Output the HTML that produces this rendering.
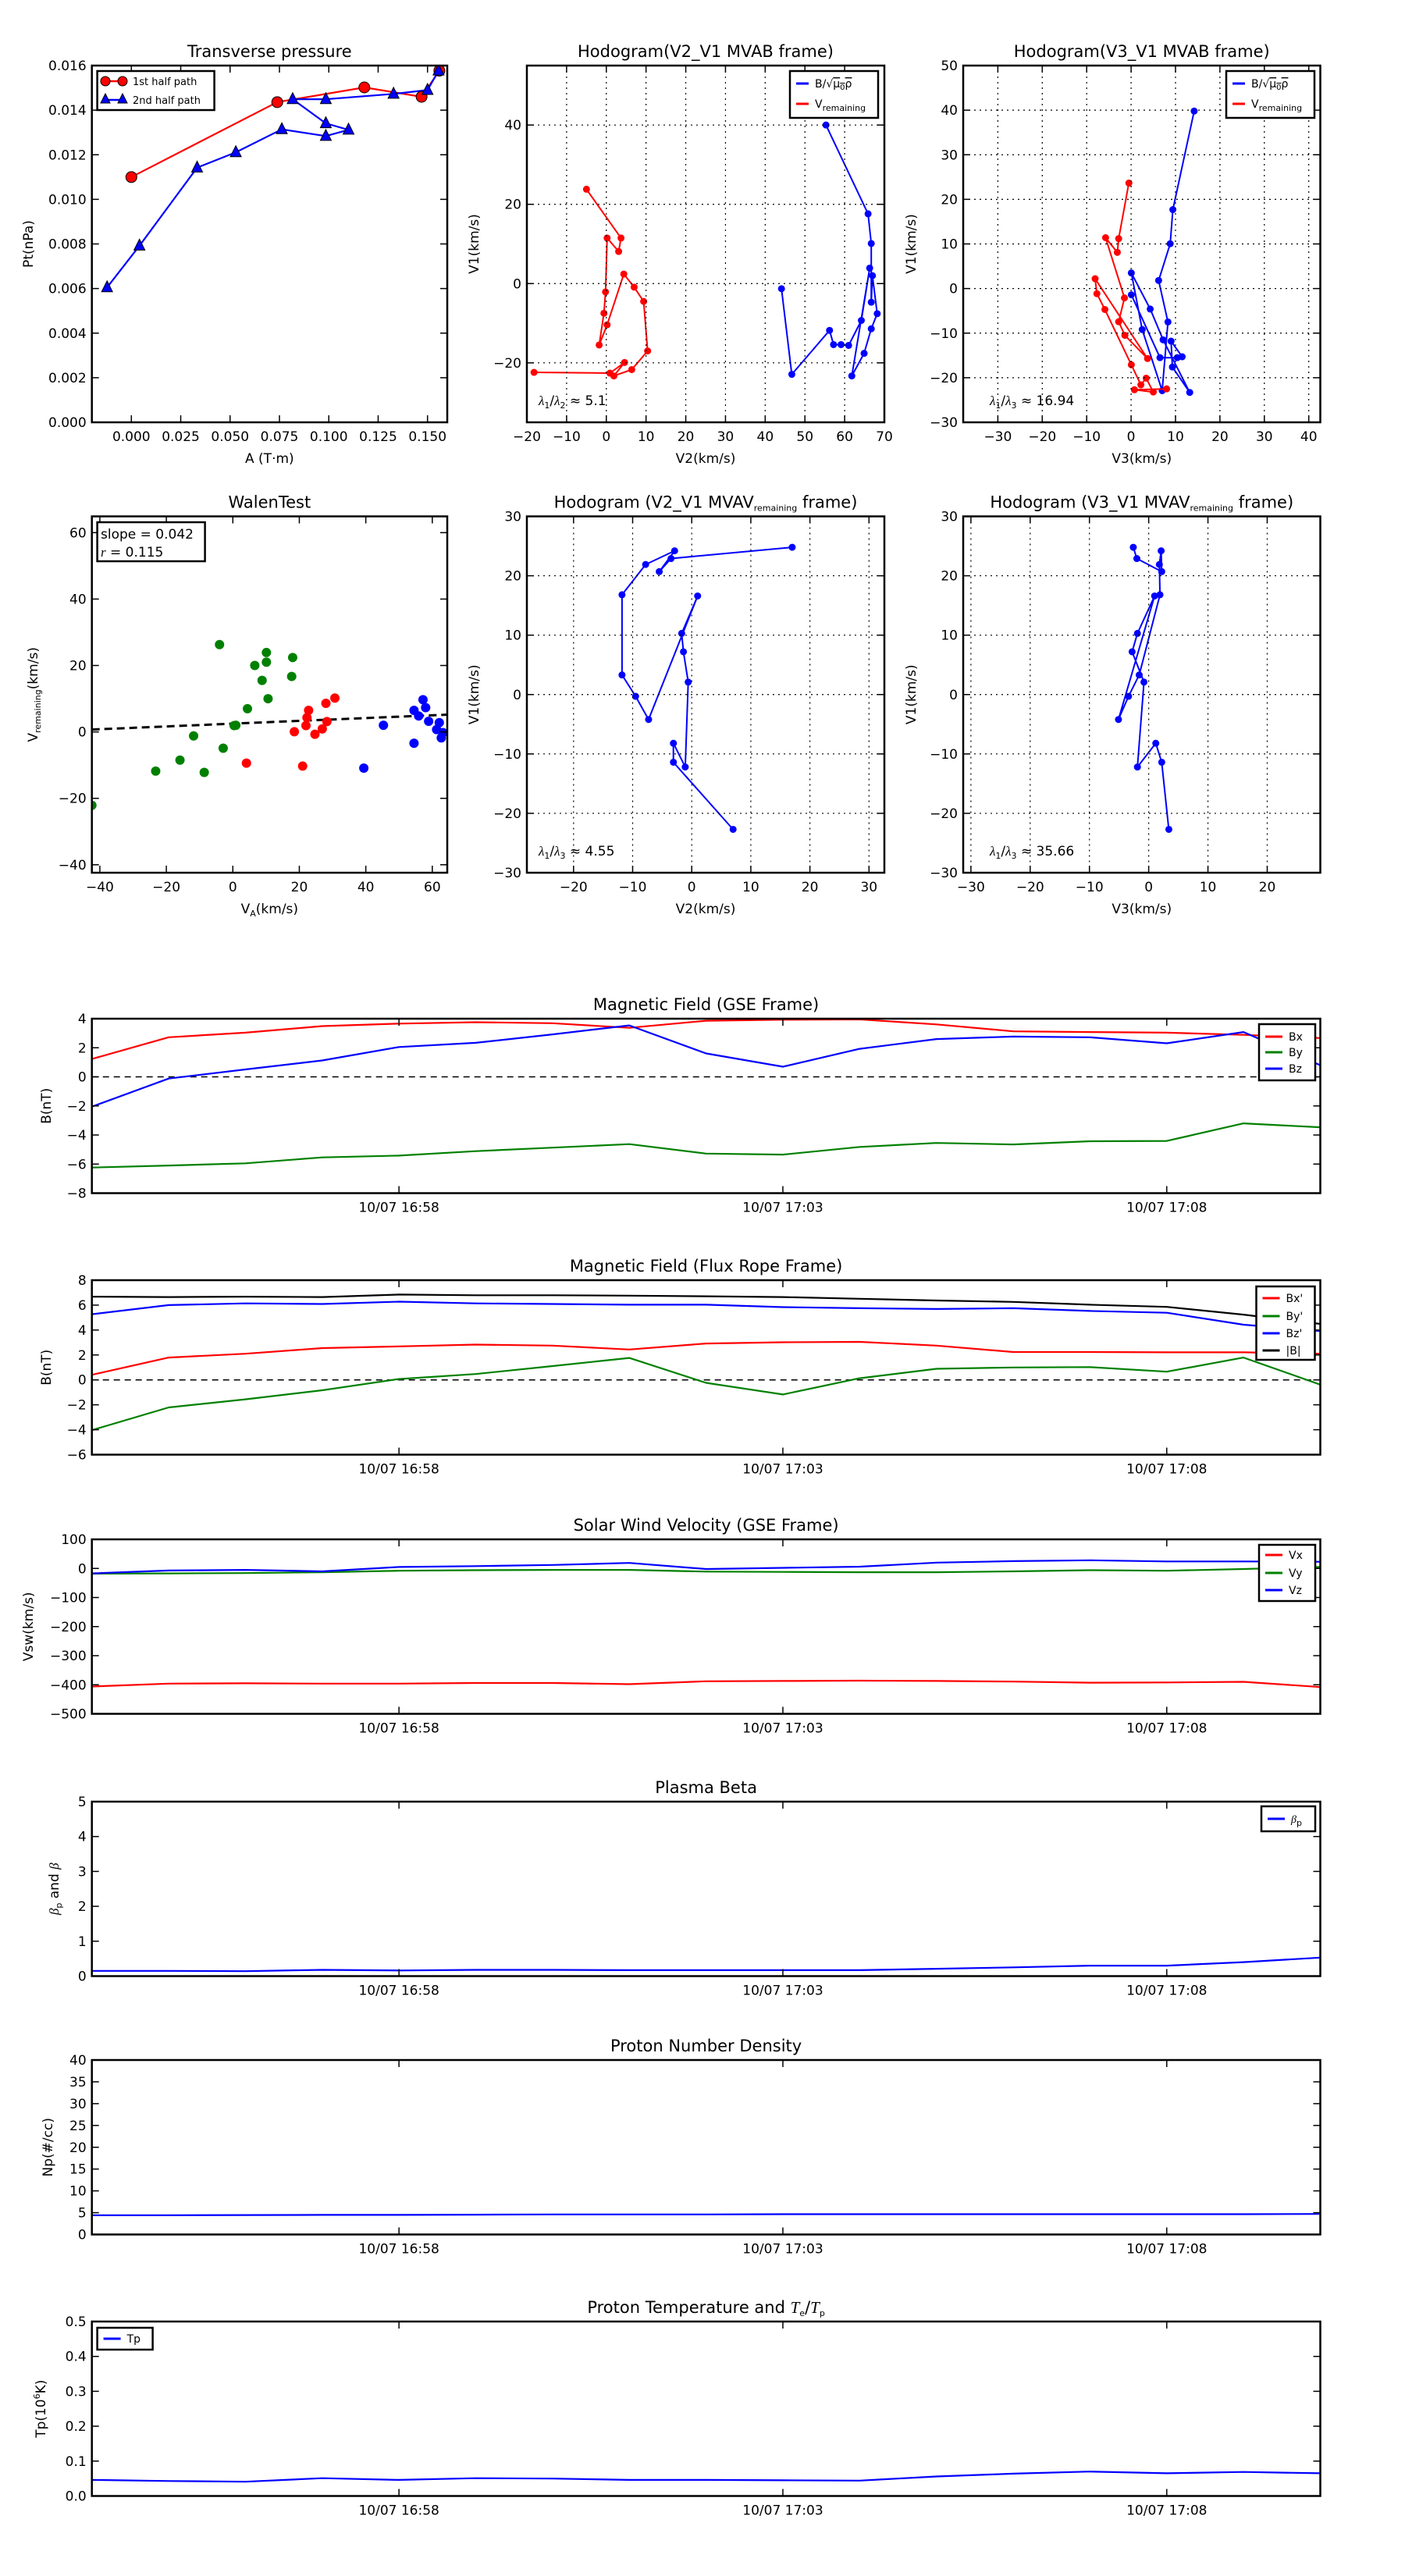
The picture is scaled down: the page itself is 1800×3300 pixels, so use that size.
<!DOCTYPE html>
<html><head><meta charset="utf-8"><style>
html,body{margin:0;padding:0;background:#fff;}
svg{display:block;font-family:"DejaVu Sans","Liberation Sans",sans-serif;}
</style></head><body>
<svg id="fig" width="1800" height="3300" viewBox="0 0 1800 3300" xmlns="http://www.w3.org/2000/svg"></svg>
<script>
// ---------- data ----------
const ptRedA=[0.000,0.0739,0.118,0.147,0.156];
const ptRedP=[0.0110,0.01436,0.01502,0.0146,0.01577];
const ptBlueA=[-0.0123,0.0041,0.0333,0.0529,0.0762,0.0985,0.110,0.0985,0.0817,0.0985,0.1328,0.150,0.1556];
const ptBlueP=[0.00605,0.00792,0.01142,0.01211,0.01314,0.01284,0.01312,0.01341,0.01449,0.01449,0.01473,0.01490,0.01577];
const h1BV2=[44.1,46.7,56.2,57.2,59.1,61.0,64.2,66.3,61.8,64.9,66.7,68.2,67.0,66.7,66.7,65.9,55.3];
const h1BV1=[-1.3,-22.9,-11.8,-15.4,-15.4,-15.6,-9.3,3.9,-23.3,-17.6,-11.4,-7.6,2.0,-4.7,10.1,17.6,40.0];
const h1RV2=[-5.0,3.7,3.1,0.2,-0.2,-0.6,-1.8,0.2,4.4,7.0,9.4,10.4,6.4,1.9,4.6,0.9,-18.2];
const h1RV1=[23.8,11.5,8.1,11.5,-2.1,-7.5,-15.5,-10.4,2.4,-0.9,-4.5,-17.0,-21.7,-23.3,-19.9,-22.6,-22.4];
const h2BV3=[14.2,9.4,8.8,6.2,8.3,7.0,2.5,0.05,4.3,7.2,13.2,9.3,9.0,11.5,10.4,6.5,0.05];
const h2BV1=[39.8,17.7,10.05,1.8,-7.5,-22.9,-9.2,3.5,-4.6,-11.5,-23.3,-17.6,-11.8,-15.3,-15.5,-15.5,-1.4];
const h2RV3=[-0.5,-2.8,-3.1,-5.75,-1.5,-2.8,-1.4,3.7,-8.1,-7.7,-5.9,0.05,2.2,3.4,5.0,0.75,8.0];
const h2RV1=[23.65,11.2,8.1,11.4,-2.1,-7.45,-10.5,-15.7,2.2,-1.15,-4.7,-17.1,-21.6,-20.1,-23.2,-22.7,-22.5];
const walGX=[-4.0,10.1,10.1,6.6,18.0,17.7,8.8,10.6,4.4,0.9,0.4,-11.8,-2.9,-15.9,-23.2,-8.6,-42.4];
const walGY=[26.3,23.9,21.0,20.0,22.4,16.7,15.5,10.0,7.0,2.0,1.9,-1.2,-4.9,-8.5,-11.8,-12.2,-22.1];
const walRX=[30.7,28.0,22.8,22.3,28.3,22.0,18.5,26.9,24.7,4.1,21.0];
const walRY=[10.2,8.6,6.5,4.3,3.1,1.9,0.05,0.9,-0.7,-9.4,-10.3];
const walBX=[57.2,58.0,54.5,55.9,58.9,45.3,62.1,61.3,63.2,62.7,54.5,39.4];
const walBY=[9.7,7.3,6.5,4.8,3.2,2.0,2.8,0.7,-0.2,-1.8,-3.4,-10.9];
const walSlope=0.042, walIntercept=2.48;
const m1V2=[7.0,-3.1,-3.1,-1.1,-0.6,-1.4,-1.7,1.0,-7.3,-9.5,-11.8,-11.8,-7.8,-2.9,-5.5,-3.5,17.0];
const m1V1=[-22.7,-11.4,-8.2,-12.2,2.1,7.2,10.3,16.6,-4.2,-0.3,3.3,16.8,21.9,24.2,20.7,22.9,24.8];
const m2V3=[3.4,2.2,1.2,-1.9,-0.8,-2.8,-1.9,1.0,-5.1,-3.4,-1.6,1.9,1.8,2.1,2.2,-2.0,-2.6];
const timeLabels=["10/07 16:58","10/07 17:03","10/07 17:08"];
const timeTickIdx=[4,9,14];
const gseBx=[1.23,2.72,3.04,3.49,3.66,3.76,3.69,3.37,3.86,3.93,3.95,3.61,3.13,3.08,3.04,2.89,2.67];
const gseBy=[-6.24,-6.10,-5.95,-5.54,-5.42,-5.11,-4.87,-4.63,-5.28,-5.35,-4.82,-4.55,-4.65,-4.43,-4.41,-3.20,-3.47];
const gseBz=[-2.05,-0.12,0.51,1.13,2.05,2.34,2.92,3.54,1.61,0.70,1.93,2.60,2.77,2.72,2.31,3.08,0.80];
const frBx=[0.41,1.79,2.10,2.55,2.69,2.83,2.75,2.44,2.92,3.02,3.05,2.75,2.24,2.24,2.21,2.21,2.10];
const frBy=[-4.03,-2.21,-1.56,-0.83,0.07,0.47,1.11,1.76,-0.24,-1.17,0.13,0.89,1.0,1.03,0.66,1.79,-0.38];
const frBz=[5.27,6.0,6.14,6.09,6.28,6.14,6.09,6.03,6.03,5.84,5.75,5.69,5.75,5.53,5.39,4.43,3.92];
const frBt=[6.68,6.65,6.68,6.65,6.85,6.79,6.79,6.76,6.71,6.65,6.51,6.37,6.26,6.03,5.86,5.24,4.49];
const vx=[-406,-396,-395,-396,-396,-394,-394,-398,-388,-387,-386,-387,-389,-393,-392,-390,-408];
const vy=[-18,-17,-16,-13,-8,-6,-5,-5,-11,-12,-13,-13,-10,-6,-8,-2,5];
const vz=[-17,-7,-5,-10,5,8,12,19,-2,2,6,20,25,28,24,24,23];
const betaP=[0.15,0.15,0.14,0.18,0.16,0.18,0.18,0.17,0.17,0.17,0.17,0.21,0.25,0.30,0.30,0.40,0.53];
const np=[4.4,4.4,4.45,4.5,4.5,4.55,4.6,4.6,4.6,4.65,4.65,4.65,4.65,4.65,4.65,4.65,4.7];
const tp=[0.046,0.043,0.041,0.051,0.046,0.051,0.050,0.046,0.046,0.045,0.044,0.056,0.064,0.070,0.065,0.069,0.065];

// ---------- helpers ----------
const NS="http://www.w3.org/2000/svg";
const fig=document.getElementById('fig');
function mk(tag,attrs,parent,txt){const e=document.createElementNS(NS,tag);for(const k in attrs)e.setAttribute(k,attrs[k]);if(txt!==undefined)e.textContent=txt;(parent||fig).appendChild(e);return e;}
function grp(name){const g=mk('g',{});


return g;}
function fmt(v,d){return v<0?'\u2212'+Math.abs(v).toFixed(d):v.toFixed(d);}

function axes(o){
  const g=grp(o.name);
  const sx=v=>o.x0+(v-o.xmin)/(o.xmax-o.xmin)*(o.x1-o.x0);
  const sy=v=>o.y1-(v-o.ymin)/(o.ymax-o.ymin)*(o.y1-o.y0);
  const clip='c'+o.name;
  const cp=mk('clipPath',{id:clip},g);mk('rect',{x:o.x0,y:o.y0,width:o.x1-o.x0,height:o.y1-o.y0},cp);
  const plot=mk('g',{'clip-path':'url(#'+clip+')'},g);
  
  
  o.xt.forEach(v=>{const x=sx(v);
    if(o.grid){const l=mk('line',{x1:x,x2:x,y1:o.y0,y2:o.y1,stroke:'#000','stroke-width':1.2,'stroke-dasharray':'2,5'},g);
    
    }
    mk('line',{x1:x,x2:x,y1:o.y1,y2:o.y1-9,stroke:'#000','stroke-width':1.5},g);
    mk('line',{x1:x,x2:x,y1:o.y0,y2:o.y0+9,stroke:'#000','stroke-width':1.5},g);
    if(!o.xlab){const t=mk('text',{x:x,y:o.y1+24,'font-size':17,'text-anchor':'middle'},g,fmt(v,o.xd||0));
    
    }
  });
  if(o.xlab)o.xlab.forEach((s,i)=>{const t=mk('text',{x:sx(o.xt[i]),y:o.y1+24,'font-size':17,'text-anchor':'middle'},g,s);
    
    });
  o.yt.forEach(v=>{const y=sy(v);
    if(o.grid){const l=mk('line',{x1:o.x0,x2:o.x1,y1:y,y2:y,stroke:'#000','stroke-width':1.2,'stroke-dasharray':'2,5'},g);
    
    }
    mk('line',{x1:o.x0,x2:o.x0+9,y1:y,y2:y,stroke:'#000','stroke-width':1.5},g);
    mk('line',{x1:o.x1,x2:o.x1-9,y1:y,y2:y,stroke:'#000','stroke-width':1.5},g);
    const t=mk('text',{x:o.x0-7,y:y+6,'font-size':17,'text-anchor':'end'},g,fmt(v,o.yd||0));
    
    
  });
  const fr=mk('rect',{x:o.x0,y:o.y0,width:o.x1-o.x0,height:o.y1-o.y0,fill:'none',stroke:'#000','stroke-width':2.5},g);
  
  
  const ti=mk('text',{x:(o.x0+o.x1)/2,y:o.y0-11,'font-size':21,'text-anchor':'middle'},g);
  ti.innerHTML=o.title;
  
  
  if(o.xl){const t=mk('text',{x:(o.x0+o.x1)/2,y:o.y1+52,'font-size':17,'text-anchor':'middle'},g);t.innerHTML=o.xl;
  
  }
  if(o.yl){const cy=(o.y0+o.y1)/2;const t=mk('text',{x:o.ylx,y:cy,'font-size':17,'text-anchor':'middle',transform:'rotate(-90 '+o.ylx+' '+cy+')'},g);t.innerHTML=o.yl;
  
  }
  return {g,plot,sx,sy};
}
function line(ax,xs,ys,color,name,w){
  const d=xs.map((x,i)=>(i?'L':'M')+ax.sx(x).toFixed(1)+','+ax.sy(ys[i]).toFixed(1)).join('');
  const p=mk('path',{d:d,fill:'none',stroke:color,'stroke-width':w||2.2,'stroke-linejoin':'round'},ax.plot);
  
  
  return p;
}
function dots(ax,xs,ys,color,name,r,tri){
  xs.forEach((x,i)=>{const cx=ax.sx(x),cy=ax.sy(ys[i]);let e;
    if(tri)e=mk('polygon',{points:`${cx},${cy-r*1.2} ${cx-r},${cy+r*0.8} ${cx+r},${cy+r*0.8}`,fill:color,stroke:'#000','stroke-width':1},ax.plot);
    else e=mk('circle',{cx:cx,cy:cy,r:r,fill:color,stroke:tri===false?'#000':'none','stroke-width':1},ax.plot);
    
    
  });
}
function legend(x,y,w,h,items,name){
  const g=grp(name);
  mk('rect',{x:x,y:y,width:w,height:h,fill:'#fff',stroke:'#000','stroke-width':2.5},g);
  items.forEach((it,i)=>{const yy=y+it.dy;
    mk('line',{x1:x+8,x2:x+(it.len||28),y1:yy,y2:yy,stroke:it.c,'stroke-width':3},g);
    const t=mk('text',{x:x+(it.len||28)+8,y:yy+5,'font-size':14},g);t.innerHTML=it.t;
    
    
  });
  return g;
}
const I=v=>'<tspan font-family="Liberation Serif,serif" font-style="italic">'+v+'</tspan>';
const SUB=v=>'<tspan font-size="11" baseline-shift="-4">'+v+'</tspan>';

// ---------- Transverse pressure ----------
let a=axes({name:'transverse-pressure-panel',x0:117.7,x1:573,y0:84,y1:541,xmin:-0.020,xmax:0.160,ymin:0,ymax:0.016,
 xt:[0,0.025,0.05,0.075,0.1,0.125,0.15],xd:3,yt:[0,0.002,0.004,0.006,0.008,0.010,0.012,0.014,0.016],yd:3,
 title:'Transverse pressure',xl:'A (T·m)',yl:'Pt(nPa)',ylx:42});
line(a,ptRedA,ptRedP,'#ff0000','first-half-path-line',2.2);
line(a,ptBlueA,ptBlueP,'#0000ff','second-half-path-line',2.2);
dots(a,ptRedA,ptRedP,'#ff0000','first-half-point',7,false);
dots(a,ptBlueA,ptBlueP,'#0000ff','second-half-point',7,true);
(function(){const g=grp('pressure-legend');
 mk('rect',{x:124.6,y:91,width:150,height:50,fill:'#fff',stroke:'#000','stroke-width':2.5},g);
 mk('line',{x1:132,x2:160,y1:104,y2:104,stroke:'#f00','stroke-width':2.5},g);
 mk('circle',{cx:135,cy:104,r:6,fill:'#f00',stroke:'#000'},g);mk('circle',{cx:157,cy:104,r:6,fill:'#f00',stroke:'#000'},g);
 mk('text',{x:170,y:109,'font-size':13},g,'1st half path');
 mk('line',{x1:132,x2:160,y1:128,y2:128,stroke:'#00f','stroke-width':2.5},g);
 mk('polygon',{points:'135,120 129,132 141,132',fill:'#00f',stroke:'#000'},g);mk('polygon',{points:'157,120 151,132 163,132',fill:'#00f',stroke:'#000'},g);
 mk('text',{x:170,y:133,'font-size':13},g,'2nd half path');})();

// ---------- Hodogram V2_V1 MVAB ----------
a=axes({name:'hodogram-v2-v1-mvab-panel',x0:675,x1:1133,y0:84,y1:541,xmin:-20,xmax:70,ymin:-35,ymax:55,grid:true,
 xt:[-20,-10,0,10,20,30,40,50,60,70],yt:[-20,0,20,40],title:'Hodogram(V2_V1 MVAB frame)',xl:'V2(km/s)',yl:'V1(km/s)',ylx:613});
line(a,h1BV2,h1BV1,'#0000ff','b-hodogram-line',2);dots(a,h1BV2,h1BV1,'#0000ff','b-hodogram-point',4.5);
line(a,h1RV2,h1RV1,'#ff0000','v-hodogram-line',2);dots(a,h1RV2,h1RV1,'#ff0000','v-hodogram-point',4.5);
legend(1012,91,113,60,[{dy:16,c:'#00f',t:'B/√<tspan text-decoration="overline">μ<tspan font-size="10" baseline-shift="-3">0</tspan>ρ</tspan>',len:24},{dy:42,c:'#f00',t:'V'+SUB('remaining'),len:24}],'hodogram1-legend');
(function(){const t=mk('text',{x:690,y:519,'font-size':17});t.innerHTML=I('λ')+SUB('1')+'/'+I('λ')+SUB('2')+' ≈ 5.1';

})();

// ---------- Hodogram V3_V1 MVAB ----------
a=axes({name:'hodogram-v3-v1-mvab-panel',x0:1234,x1:1691.5,y0:84,y1:541,xmin:-37.8,xmax:42.6,ymin:-30,ymax:50,grid:true,
 xt:[-30,-20,-10,0,10,20,30,40],yt:[-30,-20,-10,0,10,20,30,40,50],title:'Hodogram(V3_V1 MVAB frame)',xl:'V3(km/s)',yl:'V1(km/s)',ylx:1173});
line(a,h2BV3,h2BV1,'#0000ff','b-hodogram-line',2);dots(a,h2BV3,h2BV1,'#0000ff','b-hodogram-point',4.5);
line(a,h2RV3,h2RV1,'#ff0000','v-hodogram-line',2);dots(a,h2RV3,h2RV1,'#ff0000','v-hodogram-point',4.5);
legend(1571,91,113,60,[{dy:16,c:'#00f',t:'B/√<tspan text-decoration="overline">μ<tspan font-size="10" baseline-shift="-3">0</tspan>ρ</tspan>',len:24},{dy:42,c:'#f00',t:'V'+SUB('remaining'),len:24}],'hodogram2-legend');
(function(){const t=mk('text',{x:1268,y:519,'font-size':17});t.innerHTML=I('λ')+SUB('1')+'/'+I('λ')+SUB('3')+' ≈ 16.94';

})();

// ---------- Walen test ----------
a=axes({name:'walen-test-panel',x0:117.7,x1:573,y0:661.5,y1:1118,xmin:-42.4,xmax:64.5,ymin:-42.4,ymax:64.9,
 xt:[-40,-20,0,20,40,60],yt:[-40,-20,0,20,40,60],title:'WalenTest',xl:'V'+SUB('A')+'(km/s)',yl:'V'+SUB('remaining')+'(km/s)',ylx:48});
line(a,[-42.4,64.5],[walIntercept+walSlope*-42.4,walIntercept+walSlope*64.5],'#000','regression-line',3).setAttribute('stroke-dasharray','10,6');
dots(a,walGX,walGY,'#008000','walen-green-point',6);
dots(a,walRX,walRY,'#ff0000','walen-red-point',6);
dots(a,walBX,walBY,'#0000ff','walen-blue-point',6);
(function(){const g=grp('walen-stats-box');mk('rect',{x:124.6,y:669,width:138,height:50,fill:'#fff',stroke:'#000','stroke-width':2.5},g);
mk('text',{x:129,y:690,'font-size':17},g,'slope = 0.042');const t=mk('text',{x:129,y:713,'font-size':17},g);t.innerHTML=I('r')+' = 0.115';})();

// ---------- Hodogram V2_V1 MVAV ----------
a=axes({name:'hodogram-v2-v1-mvav-panel',x0:675,x1:1133,y0:661.5,y1:1118,xmin:-27.9,xmax:32.6,ymin:-30,ymax:30,grid:true,
 xt:[-20,-10,0,10,20,30],yt:[-30,-20,-10,0,10,20,30],title:'Hodogram (V2_V1 MVAV'+SUB('remaining')+' frame)',xl:'V2(km/s)',yl:'V1(km/s)',ylx:613});
line(a,m1V2,m1V1,'#0000ff','hodogram-line',2);dots(a,m1V2,m1V1,'#0000ff','hodogram-point',4.5);
(function(){const t=mk('text',{x:690,y:1096,'font-size':17});t.innerHTML=I('λ')+SUB('1')+'/'+I('λ')+SUB('3')+' ≈ 4.55';

})();

// ---------- Hodogram V3_V1 MVAV ----------
a=axes({name:'hodogram-v3-v1-mvav-panel',x0:1234,x1:1691.5,y0:661.5,y1:1118,xmin:-31.3,xmax:28.96,ymin:-30,ymax:30,grid:true,
 xt:[-30,-20,-10,0,10,20],yt:[-30,-20,-10,0,10,20,30],title:'Hodogram (V3_V1 MVAV'+SUB('remaining')+' frame)',xl:'V3(km/s)',yl:'V1(km/s)',ylx:1173});
line(a,m2V3,m1V1,'#0000ff','hodogram-line',2);dots(a,m2V3,m1V1,'#0000ff','hodogram-point',4.5);
(function(){const t=mk('text',{x:1268,y:1096,'font-size':17});t.innerHTML=I('λ')+SUB('1')+'/'+I('λ')+SUB('3')+' ≈ 35.66';

})();

// ---------- time series ----------
const idx=gseBx.map((_,i)=>i);
function ts(name,y0,ymin,ymax,yt,yd,title,yl,ylx){
  return axes({name:name,x0:117.7,x1:1691.5,y0:y0,y1:y0+223.5,xmin:0,xmax:16,ymin:ymin,ymax:ymax,xt:timeTickIdx,xlab:timeLabels,yt:yt,yd:yd,title:title,yl:yl,ylx:ylx});
}
function zero(ax){const l=mk('line',{x1:117.7,x2:1691.5,y1:ax.sy(0),y2:ax.sy(0),stroke:'#000','stroke-width':1.5,'stroke-dasharray':'8,6'},ax.plot);

}
a=ts('gse-magnetic-field-panel',1305,-8,4,[-8,-6,-4,-2,0,2,4],0,'Magnetic Field (GSE Frame)','B(nT)',65);
zero(a);line(a,idx,gseBx,'#ff0000','bx-line');line(a,idx,gseBy,'#008000','by-line');line(a,idx,gseBz,'#0000ff','bz-line');
legend(1613,1312,72,72,[{dy:16,c:'#f00',t:'Bx',len:30},{dy:36,c:'#008000',t:'By',len:30},{dy:57,c:'#00f',t:'Bz',len:30}],'gse-legend');

a=ts('flux-rope-magnetic-field-panel',1640,-6,8,[-6,-4,-2,0,2,4,6,8],0,'Magnetic Field (Flux Rope Frame)','B(nT)',65);
zero(a);line(a,idx,frBx,'#ff0000','bx-prime-line');line(a,idx,frBy,'#008000','by-prime-line');line(a,idx,frBz,'#0000ff','bz-prime-line');line(a,idx,frBt,'#000000','b-total-line');
legend(1609.5,1648,75,94,[{dy:15,c:'#f00',t:"Bx'",len:30},{dy:38,c:'#008000',t:"By'",len:30},{dy:60,c:'#00f',t:"Bz'",len:30},{dy:82,c:'#000',t:'|B|',len:30}],'flux-rope-legend');

a=ts('solar-wind-velocity-panel',1972,-500,100,[-500,-400,-300,-200,-100,0,100],0,'Solar Wind Velocity (GSE Frame)','Vsw(km/s)',42);
line(a,idx,vx,'#ff0000','vx-line');line(a,idx,vy,'#008000','vy-line');line(a,idx,vz,'#0000ff','vz-line');
legend(1613,1979,72,72,[{dy:13,c:'#f00',t:'Vx',len:30},{dy:36,c:'#008000',t:'Vy',len:30},{dy:58,c:'#00f',t:'Vz',len:30}],'velocity-legend');

a=ts('plasma-beta-panel',2308,0,5,[0,1,2,3,4,5],0,'Plasma Beta',I('β')+SUB('p')+' and '+I('β'),75);
line(a,idx,betaP,'#0000ff','beta-p-line');
legend(1616,2314,69,32,[{dy:16,c:'#00f',t:I('β')+SUB('p'),len:30}],'beta-legend');

a=ts('proton-density-panel',2639,0,40,[0,5,10,15,20,25,30,35,40],0,'Proton Number Density','Np(#/cc)',67);
line(a,idx,np,'#0000ff','np-line');

a=ts('proton-temperature-panel',2974,0,0.5,[0,0.1,0.2,0.3,0.4,0.5],1,'Proton Temperature and '+I('T')+SUB('e')+'/'+I('T')+SUB('p'),'Tp(10<tspan font-size="11" baseline-shift="7">6</tspan>K)',58);
line(a,idx,tp,'#0000ff','tp-line');
legend(124.6,2982,71,28,[{dy:14,c:'#00f',t:'Tp',len:30}],'tp-legend');
</script>
</body></html>
